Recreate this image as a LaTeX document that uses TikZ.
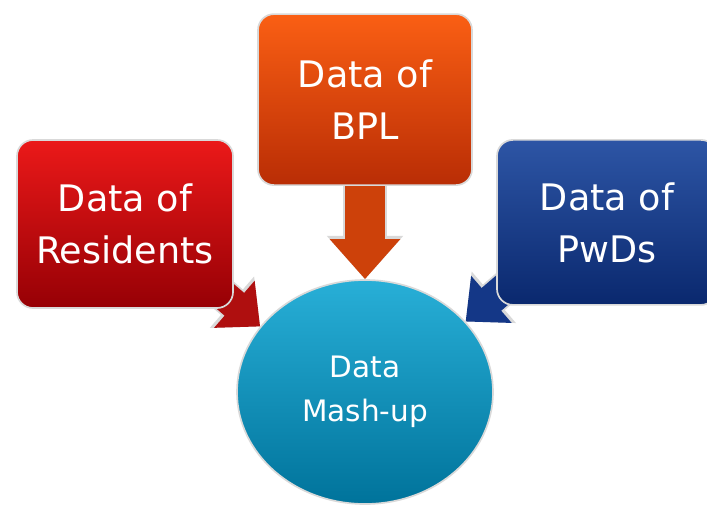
\documentclass[tikz,border=0pt]{standalone}
\usepackage{fontspec}
\setmainfont{DejaVu Sans}
\usetikzlibrary{arrows.meta,shapes.geometric,backgrounds}

\definecolor{restop}{RGB}{235,25,25}
\definecolor{resbot}{RGB}{150,0,5}
\definecolor{bpltop}{RGB}{250,95,20}
\definecolor{bplbot}{RGB}{185,45,5}
\definecolor{pwdtop}{RGB}{45,85,165}
\definecolor{pwdbot}{RGB}{10,40,110}
\definecolor{mashtop}{RGB}{40,175,215}
\definecolor{mashbot}{RGB}{0,115,155}

\begin{document}
\begin{tikzpicture}[thick,
  data box/.style={rectangle,rounded corners=0.4cm,draw=black!15,line width=1.2pt,text=white,align=center,font=\fontsize{26}{37}\selectfont,minimum width=5.4cm,minimum height=4.2cm},
  mash node/.style={ellipse,draw=black!15,line width=1.2pt,top color=mashtop,bottom color=mashbot,text=white,align=center,font=\fontsize{21}{31}\selectfont,minimum width=6.4cm,minimum height=5.6cm,inner sep=0pt},
  feed/.style={line width=0.75cm,-{Triangle[length=0.85cm,width=1.5cm]},
    preaction={draw=black!15,line width=0.84cm,-{Triangle[length=0.93cm,width=1.64cm]}}},
  big feed/.style={line width=1cm,-{Triangle[length=1cm,width=1.7cm]},
    preaction={draw=black!15,line width=1.09cm,-{Triangle[length=1.08cm,width=1.84cm]}}}]
  \clip (0,0) rectangle (17.675,12.75);

  \node[data box,top color=restop,bottom color=resbot] (res) at (3.125,7.15) {Data of\\Residents};
  \node[data box,top color=bpltop,bottom color=bplbot,minimum width=5.35cm,minimum height=4.275cm] (bpl) at (9.125,10.26) {Data of\\BPL};
  \node[data box,top color=pwdtop,bottom color=pwdbot,minimum width=5.5cm,minimum height=4.125cm] (pwd) at (15.175,7.19) {Data of\\PwDs};
  \node[mash node] (mash) at (9.125,2.95) {Data\\Mash-up};

  % arrows go behind the boxes
  \begin{scope}[on background layer]
    \draw[feed,draw={rgb,255:red,175;green,15;blue,15}] ([shift={(-0.9,0.9)}]res.south east) -- (mash.148);
    \draw[big feed,draw={rgb,255:red,205;green,65;blue,10}] (bpl.south) -- (mash.north);
    \draw[feed,draw={rgb,255:red,20;green,55;blue,135}] ([shift={(0.8,0.95)}]pwd.south west) -- (mash.35);
  \end{scope}
\end{tikzpicture}
\end{document}
